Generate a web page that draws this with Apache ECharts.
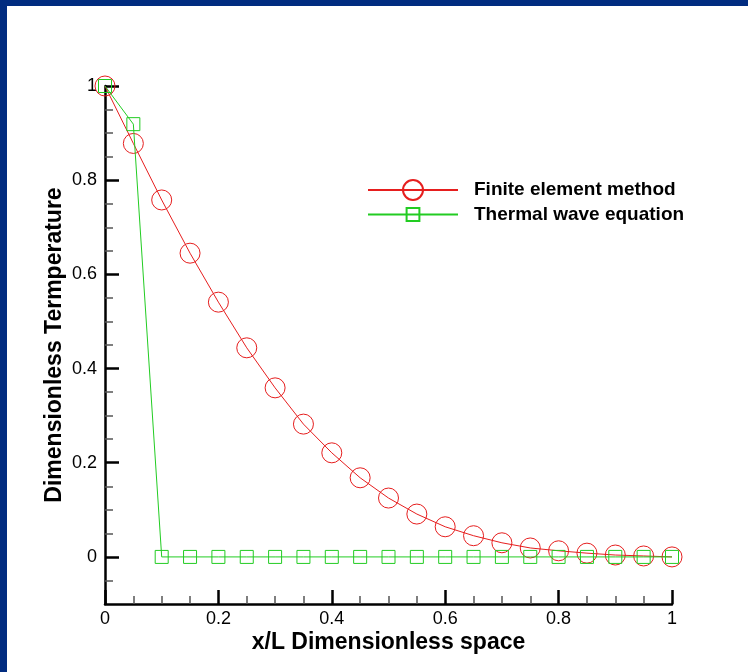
<!DOCTYPE html>
<html>
<head>
<meta charset="utf-8">
<title>Dimensionless temperature</title>
<script src="https://cdn.jsdelivr.net/npm/echarts@6/dist/echarts.min.js"></script>
<style>
  html, body { margin: 0; padding: 0; background: #fff; }
  #wrap { position: relative; width: 748px; height: 672px; }
  #chart { position: absolute; left: 0; top: 0; width: 748px; height: 672px; }
  /* dark blue frame on top and left */
  #frame { position: absolute; left: 0; top: 0; width: 741px; height: 666px;
           border-top: 6px solid #012c80; border-left: 7px solid #012c80; pointer-events: none; }
</style>
</head>
<body>
<div id="wrap">
  <div id="chart"></div>
  <div id="frame"></div>
</div>
<script>
// x/L positions
var xValues = [0, 0.05, 0.1, 0.15, 0.2, 0.25, 0.3, 0.35, 0.4, 0.45, 0.5,
               0.55, 0.6, 0.65, 0.7, 0.75, 0.8, 0.85, 0.9, 0.95, 1];
// Finite element method
var femValues = [1.0, 0.878, 0.758, 0.645, 0.541, 0.444, 0.359, 0.282, 0.221, 0.168, 0.125,
                 0.091, 0.064, 0.045, 0.030, 0.019, 0.013, 0.008, 0.004, 0.002, 0.0];
// Thermal wave equation
var waveValues = [1.0, 0.919, 0, 0, 0, 0, 0, 0, 0, 0, 0,
                  0, 0, 0, 0, 0, 0, 0, 0, 0, 0];
var seriesNames = ['Finite element method', 'Thermal wave equation'];
// y axis ticks
var yMajorTicks = [0, 0.2, 0.4, 0.6, 0.8, 1];
var yMinorTicks = [-0.05, 0.05, 0.1, 0.15, 0.25, 0.3, 0.35, 0.45, 0.5, 0.55,
                   0.65, 0.7, 0.75, 0.85, 0.9, 0.95];

var font = 'Arial, "Liberation Sans", sans-serif';
var red = '#e61e1e', green = '#22cc22';

function pairs(xs, ys) {
  var out = [];
  for (var i = 0; i < xs.length; i++) {
    out.push([xs[i], ys[i]]);
  }
  return out;
}

function fmt(v) {
  return String(Math.round(v * 10) / 10);
}

var legendText = { color: '#000', fontFamily: font, fontWeight: 'bold', fontSize: 19, padding: [0, 0, 0, 11] };

var chart = echarts.init(document.getElementById('chart'));
var option = {
  backgroundColor: '#fff',
  animation: false,
  grid: { left: 105, top: 86, right: 76, bottom: 68 },
  legend: [
    {
      data: [seriesNames[0]],
      left: 362, top: 174,
      itemWidth: 90, itemHeight: 25,
      textStyle: legendText
    },
    {
      data: [seriesNames[1]],
      left: 362, top: 200,
      itemWidth: 90, itemHeight: 16,
      textStyle: legendText
    }
  ],
  xAxis: {
    type: 'value',
    min: 0, max: 1, interval: 0.2,
    name: 'x/L Dimensionless space',
    nameLocation: 'middle',
    nameGap: 27,
    nameMoveOverlap: false,
    nameTextStyle: { color: '#000', fontFamily: font, fontWeight: 'bold', fontSize: 23 },
    axisLine: { onZero: false, lineStyle: { color: '#000', width: 2.5 } },
    axisTick: { inside: true, length: 14, lineStyle: { color: '#000', width: 2.5 } },
    minorTick: { show: true, splitNumber: 4, length: 8, lineStyle: { color: '#555', width: 1.5 } },
    axisLabel: { color: '#000', fontFamily: font, fontSize: 18, margin: 6, formatter: fmt },
    splitLine: { show: false }
  },
  yAxis: [
    {
      type: 'value',
      min: -0.1, max: 1,
      name: 'Dimensionless Termperature',
      nameLocation: 'middle',
      nameGap: 39,
      nameMoveOverlap: false,
      nameTextStyle: { color: '#000', fontFamily: font, fontWeight: 'bold', fontSize: 23 },
      axisLine: { onZero: false, lineStyle: { color: '#000', width: 2.5 } },
      axisTick: { inside: true, length: 14, customValues: yMajorTicks, lineStyle: { color: '#000', width: 2.5 } },
      axisLabel: { color: '#000', fontFamily: font, fontSize: 18, margin: 8, customValues: yMajorTicks, formatter: fmt },
      splitLine: { show: false }
    },
    {
      // only the short minor ticks
      type: 'value',
      position: 'left',
      min: -0.1, max: 1,
      axisLine: { show: false },
      axisTick: { inside: true, length: 8, customValues: yMinorTicks, lineStyle: { color: '#555', width: 1.5 } },
      axisLabel: { show: false },
      splitLine: { show: false }
    }
  ],
  series: [
    {
      name: seriesNames[0],
      type: 'line',
      data: pairs(xValues, femValues),
      symbol: 'circle',
      symbolSize: 20,
      lineStyle: { color: red, width: 1 },
      itemStyle: { color: 'rgba(0,0,0,0)', borderColor: red, borderWidth: 1 },
      z: 3
    },
    {
      name: seriesNames[1],
      type: 'line',
      data: pairs(xValues, waveValues),
      symbol: 'rect',
      symbolSize: 13,
      lineStyle: { color: green, width: 1 },
      itemStyle: { color: 'rgba(0,0,0,0)', borderColor: green, borderWidth: 1 },
      z: 4
    }
  ]
};
chart.setOption(option);
</script>
</body>
</html>
